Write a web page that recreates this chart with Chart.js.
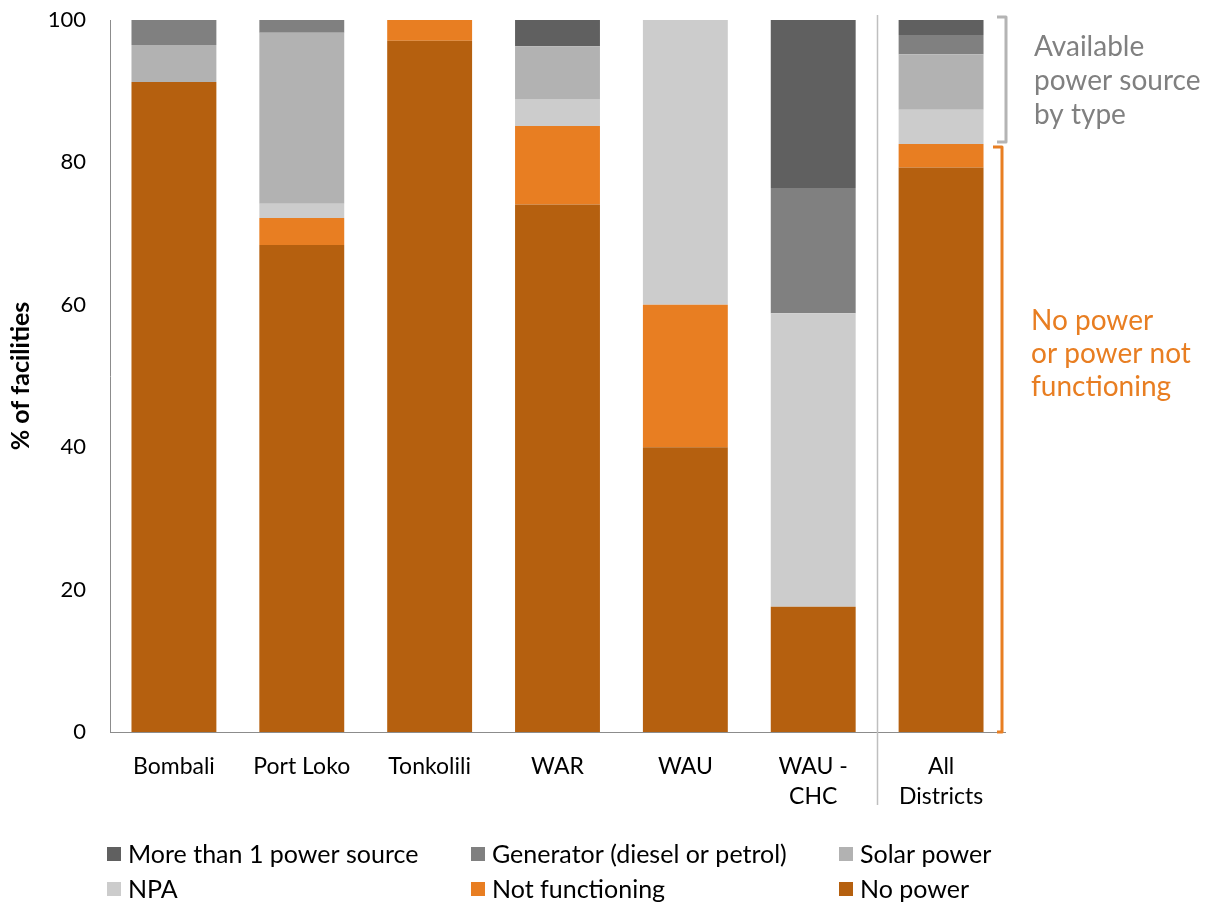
<!DOCTYPE html>
<html>
<head>
<meta charset="utf-8">
<script src="https://cdn.jsdelivr.net/npm/chart.js@4"></script>
<style>
  html, body { margin: 0; padding: 0; background: #fff; }
  #wrap { width: 1210px; height: 907px; position: relative; }
</style>
</head>
<body>
<div id="wrap"><canvas id="powerChart" width="1210" height="907"></canvas></div>
<script>
const districts = ['Bombali', 'Port Loko', 'Tonkolili', 'WAR', 'WAU', ['WAU -', 'CHC'], ['All', 'Districts']];
const noPower        = [91.3, 68.4, 97.1, 74.1, 40.0, 17.6, 79.3];
const notFunctioning = [0,    3.8,  2.9,  11.0, 20.0, 0,    3.3];
const npa            = [0,    2.0,  0,    3.8,  40.0, 41.2, 4.8];
const solarPower     = [5.2,  24.0, 0,    7.4,  0,    0,    7.8];
const generator      = [3.5,  1.8,  0,    0,    0,    17.6, 2.7];
const multipleSource = [0,    0,    0,    3.7,  0,    23.6, 2.1];
const yTicks = [0, 20, 40, 60, 80, 100];

const FONT = 'Lato, "Open Sans", sans-serif';
const ORANGE = '#E87E22';

const series = [
  { label: 'No power', data: noPower, color: '#B5600F' },
  { label: 'Not functioning', data: notFunctioning, color: ORANGE },
  { label: 'NPA', data: npa, color: '#CCCCCC' },
  { label: 'Solar power', data: solarPower, color: '#B2B2B2' },
  { label: 'Generator (diesel or petrol)', data: generator, color: '#808080' },
  { label: 'More than 1 power source', data: multipleSource, color: '#606060' }
];

// separator, brackets, side notes and the legend
const extras = {
  id: 'extras',
  afterDraw(chart) {
    const ctx = chart.ctx;
    const x = chart.scales.x, y = chart.scales.y;
    const last = districts.length - 1;
    ctx.save();

    // divider before the all-districts bar
    const sepX = Math.round((x.getPixelForValue(last - 1) + x.getPixelForValue(last)) / 2) + 0.5;
    ctx.strokeStyle = '#BFBFBF';
    ctx.lineWidth = 1.5;
    ctx.beginPath();
    ctx.moveTo(sepX, y.getPixelForValue(100) - 5);
    ctx.lineTo(sepX, 805);
    ctx.stroke();

    // brackets beside the all-districts bar
    const noneTop = noPower[last] + notFunctioning[last];
    const yTop = y.getPixelForValue(100);
    const ySplit = y.getPixelForValue(noneTop);
    const yBase = y.getPixelForValue(0);
    ctx.lineWidth = 3;
    ctx.lineJoin = 'round';
    ctx.strokeStyle = '#B4B4B4';
    ctx.beginPath();
    ctx.moveTo(997, yTop - 3);
    ctx.lineTo(1006, yTop - 3);
    ctx.lineTo(1006, ySplit - 2);
    ctx.lineTo(997, ySplit - 2);
    ctx.stroke();
    ctx.strokeStyle = ORANGE;
    ctx.beginPath();
    ctx.moveTo(993, ySplit + 3);
    ctx.lineTo(1002, ySplit + 3);
    ctx.lineTo(1002, yBase);
    ctx.lineTo(997, yBase);
    ctx.stroke();

    ctx.font = '28px ' + FONT;
    ctx.textBaseline = 'middle';
    ctx.textAlign = 'left';
    ctx.fillStyle = '#808080';
    ['Available', 'power source', 'by type'].forEach((t, i) => ctx.fillText(t, 1034, 47 + i * 34));
    ctx.fillStyle = ORANGE;
    ['No power', 'or power not', 'functioning'].forEach((t, i) => ctx.fillText(t, 1031, 321 + i * 33));

    // legend, three columns, top series first
    const cols = [107, 471, 839];
    const rows = [854, 889];
    ctx.font = '25px ' + FONT;
    series.slice().reverse().forEach((s, i) => {
      const lx = cols[i % 3], ly = rows[Math.floor(i / 3)];
      ctx.fillStyle = s.color;
      ctx.fillRect(lx, ly - 7, 14, 14);
      ctx.fillStyle = '#000';
      ctx.fillText(s.label, lx + 21, ly + 1);
    });
    ctx.restore();
  }
};

new Chart(document.getElementById('powerChart'), {
  type: 'bar',
  data: {
    labels: districts,
    datasets: series.map(s => ({
      label: s.label,
      data: s.data,
      backgroundColor: s.color,
      borderWidth: 0,
      categoryPercentage: 1,
      barPercentage: 0.664
    }))
  },
  options: {
    responsive: false,
    animation: false,
    layout: { padding: { top: 20, right: 205, left: 0, bottom: 0 } },
    plugins: { legend: { display: false }, tooltip: { enabled: false } },
    scales: {
      x: {
        stacked: true,
        grid: { display: false, drawTicks: false },
        border: { color: '#8C8C8C', width: 1 },
        ticks: { color: '#000', font: { family: FONT, size: 23, lineHeight: 1.3 }, padding: 20, maxRotation: 0, autoSkip: false },
        afterFit: s => { s.height = 175; s.paddingLeft = 0; s.paddingRight = 0; }
      },
      y: {
        stacked: true,
        min: 0,
        max: 100,
        afterBuildTicks: s => { s.ticks = yTicks.map(v => ({ value: v })); },
        grid: { display: false, drawTicks: false },
        border: { color: '#8C8C8C', width: 1 },
        ticks: { color: '#000', font: { family: FONT, size: 22 }, padding: 24 },
        title: {
          display: true,
          text: '% of facilities',
          color: '#000',
          font: { family: FONT, size: 25, weight: 'bold' },
          padding: { top: 6, bottom: 0 }
        },
        afterFit: s => { s.width = 110; s.paddingTop = 0; s.paddingBottom = 0; }
      }
    }
  },
  plugins: [extras]
});
</script>
</body>
</html>
